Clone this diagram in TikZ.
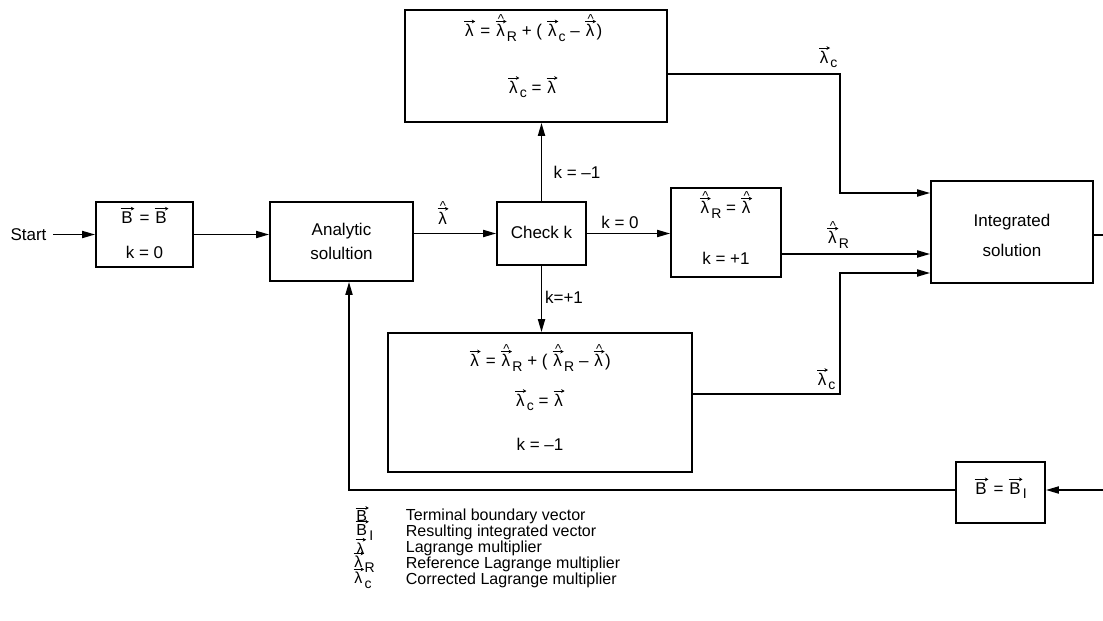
\documentclass[tikz,border=0pt]{standalone}
\usepackage{fontspec}
\setmainfont{Liberation Sans}
\usetikzlibrary{arrows.meta}
\newdimen\oarrw
\newcommand\oarr[1]{\mbox{\setbox0\hbox{#1}\oarrw=\wd0\vbox{\offinterlineskip\hbox{\tikz[x=1pt,y=1pt,baseline=0pt]\draw[line width=0.9pt,-{Stealth[length=3.5pt,width=3.8pt]}] (0,0) -- (\the\oarrw+2.5pt,0);}\kern1.0pt\hbox{\kern1.2pt\box0\kern1.2pt}}}}
\newcommand\ohat[1]{\mbox{\setbox0\hbox{#1}\vbox{\offinterlineskip\hbox to\wd0{\hfil\fontsize{13}{13}\selectfont\^{}\hfil}\kern-4pt\box0}}}
\newcommand\sbs[1]{\raisebox{-4.5pt}{\fontsize{14}{14}\selectfont #1}}
\newcommand\vlam{\oarr{λ}}
\newcommand\hlam{\ohat{\oarr{λ}}}
\newcommand\vB{\oarr{B}}
\begin{document}
\begin{tikzpicture}[x=1pt,y=-1pt,
  font=\fontsize{17}{20}\selectfont,
  line width=1.8pt,
  >={Triangle[length=13pt,width=7pt]},
  box/.style={draw,line width=1.7pt,inner sep=0pt},
  txt/.style={inner sep=0pt},
  leg/.style={inner sep=0pt,anchor=west,font=\fontsize{16}{18}\selectfont}]
\useasboundingbox (0,0) rectangle (1103,621);

% boxes
\node[box,minimum width=97pt,minimum height=65pt] (b1) at (144.5,234.5) {};
\node[box,minimum width=143pt,minimum height=79pt] (ana) at (341.5,241.5) {};
\node[box,minimum width=89pt,minimum height=63pt] (chk) at (541.5,233.5) {};
\node[box,minimum width=262pt,minimum height=112pt] (top) at (536,66) {};
\node[box,minimum width=110pt,minimum height=89pt] (lr) at (726,232.5) {};
\node[box,minimum width=304pt,minimum height=139pt] (bot) at (540,402.5) {};
\node[box,minimum width=162pt,minimum height=102pt] (int) at (1012,232) {};
\node[box,minimum width=89pt,minimum height=61pt] (bi) at (1000.5,492.5) {};

% box texts
\node[txt] (b1a) at (144.5,215) {\vB\ = \vB};
\node[txt] (b1b) at (144.5,252) {k = 0};
\node[txt] (anaa) at (341.5,231) {Analytic};
\node[txt] (anab) at (341.5,253) {solultion};
\node[txt] (chka) at (541.5,232) {Check k};
\node[txt] (topa) at (533,28) {\vlam\ = \hlam\sbs{R} + ( \vlam\sbs{c} – \hlam )};
\node[txt] (topb) at (533,87) {\vlam\sbs{c} = \vlam};
\node[txt] (lra) at (726,205) {\hlam\sbs{R} = \hlam};
\node[txt] (lrb) at (726,258) {k = +1};
\node[txt] (bota) at (540,358) {\vlam\ = \hlam\sbs{R} + ( \hlam\sbs{R} – \hlam )};
\node[txt] (botb) at (540,400) {\vlam\sbs{c} = \vlam};
\node[txt] (botc) at (540,444) {k = –1};
\node[txt] (inta) at (1012,222) {Integrated};
\node[txt] (intb) at (1012,250) {solution};
\node[txt] (bia) at (1000.5,488) {\vB\ = \vB\sbs{I}};

% start
\node[txt] (start) at (28.5,234.5) {Start};
\draw[->] (start.east) ++(6pt,0) -- (b1.west);
\draw[->] (b1.east) -- (ana.west |- b1.east);
\draw[->] (ana.east |- chk.west) -- (chk.west);
\node[txt] (lhat) at (443,213) {\hlam};
\draw[->] (chk.north) -- (top.south -| chk.north);
\node[txt] (km1) at (577,172) {k = –1};
\draw[->] (chk.east) -- (lr.west |- chk.east);
\node[txt] (k0) at (620,222) {k = 0};
\draw[->] (chk.south) -- (bot.north -| chk.south);
\node[txt] (kp1) at (564,297) {k=+1};

% routes to integrated
\coordinate (t1) at (840,74);
\coordinate (t2) at (840,193);
\draw[->] (top.east |- t1) -- (t1) -- (t2) -- (int.west |- t2);
\node[txt] (lc1) at (828,57) {\vlam\sbs{c}};
\coordinate (m1) at (0,254);
\draw[->] (lr.east |- m1) -- (int.west |- m1);
\node[txt] (lR) at (838,235) {\hlam\sbs{R}};
\coordinate (u1) at (840,394);
\coordinate (u2) at (840,273);
\draw[->] (bot.east |- u1) -- (u1) -- (u2) -- (int.west |- u2);
\node[txt] (lc2) at (826,379) {\vlam\sbs{c}};

% output and feedback
\coordinate (outR) at (1103,235);
\draw (int.east |- outR) -- (outR);
\coordinate (inR) at (1103,490);
\draw[->] (inR) -- (bi.east |- inR);
\coordinate (fb) at (349,490);
\draw[->] (bi.west |- fb) -- (fb) -- (ana.south -| fb);

% legend
\node[leg] (s1) at (355,514) {\vB};
\node[leg] (d1) at (405,516) {Terminal boundary vector};
\node[leg] (s2) at (355,530) {\vB\sbs{I}};
\node[leg] (d2) at (405,532) {Resulting integrated vector};
\node[leg] (s3) at (355,546) {\vlam};
\node[leg] (d3) at (405,548) {Lagrange multiplier};
\node[leg] (s4) at (353,562) {\vlam\sbs{R}};
\node[leg] (d4) at (405,564) {Reference Lagrange multiplier};
\node[leg] (s5) at (353,578) {\vlam\sbs{c}};
\node[leg] (d5) at (405,580) {Corrected Lagrange multiplier};
\end{tikzpicture}
\end{document}
